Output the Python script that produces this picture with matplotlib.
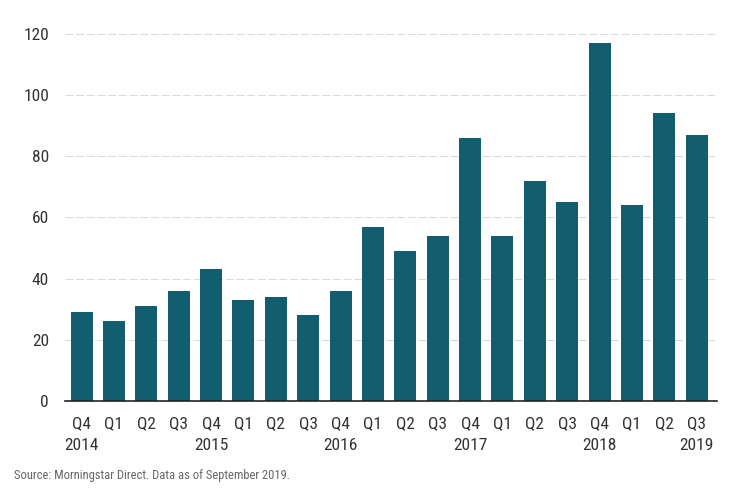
import matplotlib
matplotlib.use('Agg')
import matplotlib.pyplot as plt

plt.rcParams['font.family'] = ['Roboto Condensed', 'Roboto', 'DejaVu Sans']

# --- data ---
quarters = ['Q4', 'Q1', 'Q2', 'Q3', 'Q4', 'Q1', 'Q2', 'Q3', 'Q4', 'Q1',
            'Q2', 'Q3', 'Q4', 'Q1', 'Q2', 'Q3', 'Q4', 'Q1', 'Q2', 'Q3']
years = ['2014', '', '', '', '2015', '', '', '', '2016', '',
         '', '', '2017', '', '', '', '2018', '', '', '2019']
values = [29, 26, 31, 36, 43, 33, 34, 28, 36, 57,
          49, 54, 86, 54, 72, 65, 117, 64, 94, 87]
yticks = [0, 20, 40, 60, 80, 100, 120]

bar_color = '#125e6e'
text_color = '#333333'

fig = plt.figure(figsize=(7.31, 4.92), dpi=100)
ax = fig.add_axes([0.089, 0.185, 0.892, 0.746])

x = list(range(len(values)))
ax.bar(x, values, width=0.68, color=bar_color, zorder=3)

ax.set_ylim(0, 120)
ax.set_xlim(-0.51, len(values) - 0.37)
ax.set_yticks(yticks)
ax.set_yticklabels([str(v) for v in yticks], fontsize=12.5, color=text_color)

labels = [q + '\n' + y for q, y in zip(quarters, years)]
ax.set_xticks(x)
ax.set_xticklabels(labels, fontsize=12.5, color=text_color, linespacing=1.6, va='top')

ax.grid(axis='y', color='#d9d9d9', linestyle=(0, (8, 3)), linewidth=0.7, zorder=0)
ax.tick_params(axis='both', length=0)
ax.tick_params(axis='y', pad=11.5)
ax.tick_params(axis='x', pad=11)

for side in ['top', 'right', 'left']:
    ax.spines[side].set_visible(False)
ax.spines['bottom'].set_color('#222222')
ax.spines['bottom'].set_linewidth(1.2)
ax.spines['bottom'].set_zorder(4)

fig.text(14 / 731, 1 - 476 / 492, 'Source: Morningstar Direct. Data as of September 2019.',
         fontsize=9, color='#666666', va='center', ha='left')

fig.savefig('out.png', dpi=100)
